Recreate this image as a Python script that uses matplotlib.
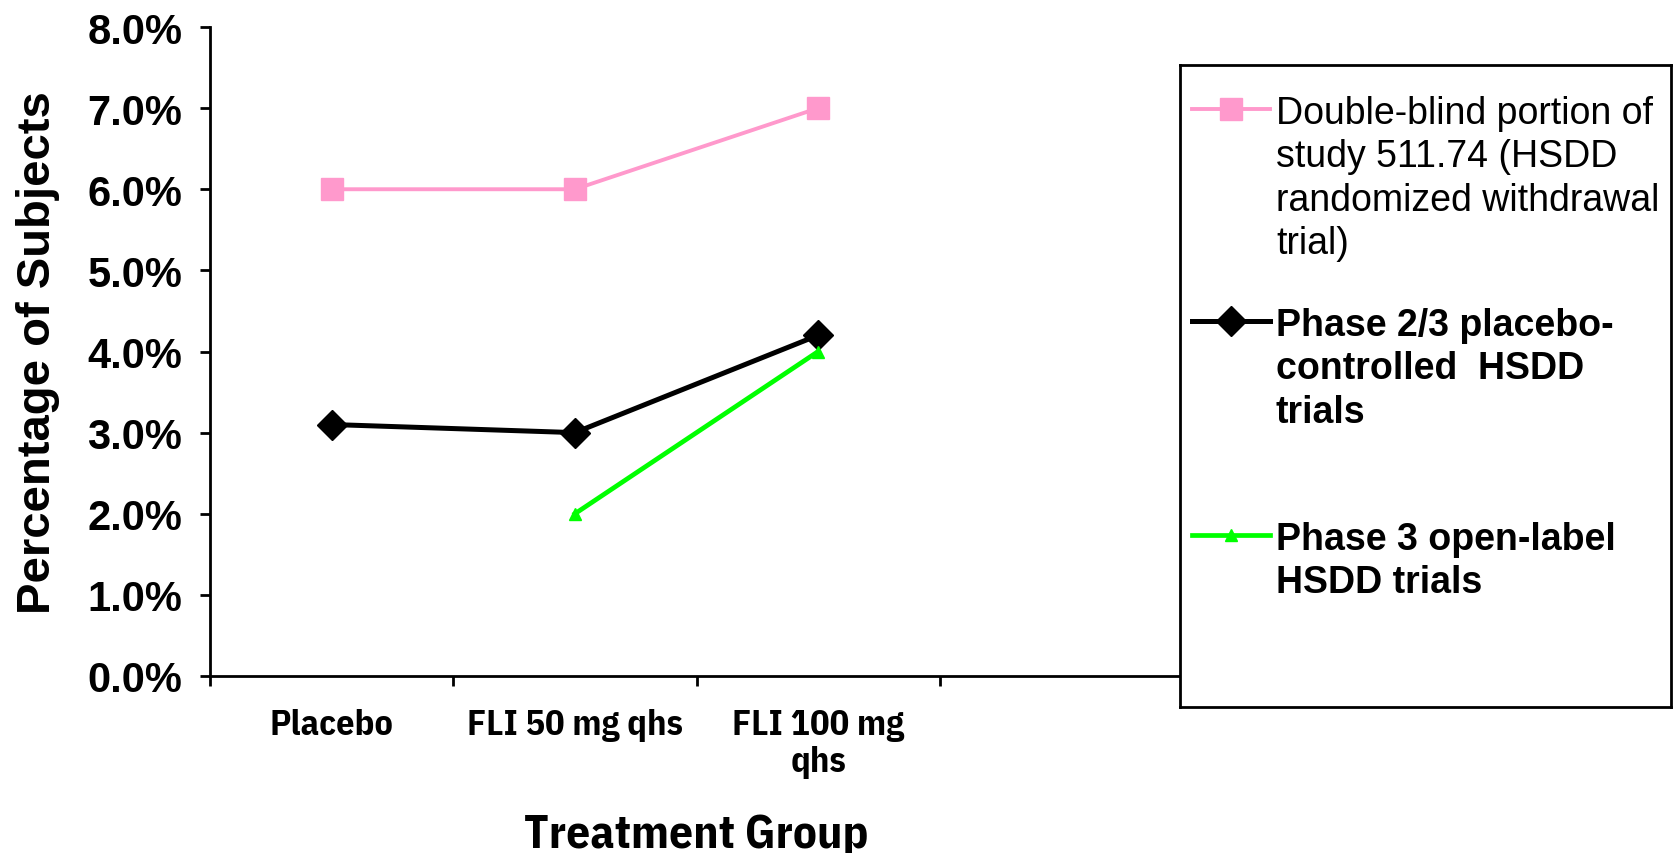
import matplotlib
matplotlib.use("Agg")
import matplotlib.pyplot as plt
from matplotlib.lines import Line2D
from matplotlib.ticker import FuncFormatter

plt.rcParams['font.family'] = ['Liberation Sans', 'DejaVu Sans']
NARROW = ['IBM Plex Sans Condensed', 'Liberation Sans']

# treatment groups (the fourth slot is left empty, hidden under the legend)
groups = ["Placebo", "FLI 50 mg qhs", "FLI 100 mg\nqhs", ""]

# percentage of subjects per series
double_blind = [6.0, 6.0, 7.0]
phase23 = [3.1, 3.0, 4.2]
phase3_open = [None, 2.0, 4.0]

labels = [
    "Double-blind portion of\nstudy 511.74 (HSDD\nrandomized withdrawal\ntrial)",
    "Phase 2/3 placebo-\ncontrolled  HSDD\ntrials",
    "Phase 3 open-label\nHSDD trials",
]
weights = ["normal", "bold", "bold"]

styles = [
    dict(color="#FF99CC", lw=2.8, marker="s", ms=16.5),
    dict(color="black", lw=3.6, marker="D", ms=15.5),
    dict(color="#00FF00", lw=3.4, marker="^", ms=9),
]

fig = plt.figure(figsize=(16.8, 8.54), dpi=100)
ax = fig.add_axes([210 / 1680, 1 - 677 / 854, 973 / 1680, 649 / 854])

x = list(range(3))
ax.plot(x, double_blind, **styles[0])
ax.plot(x, phase23, **styles[1])
ax.plot(x[1:], phase3_open[1:], **styles[2])

ax.set_xlim(-0.5, len(groups) - 0.5)
ax.set_ylim(0, 8)
ax.set_yticks(range(0, 9))
ax.yaxis.set_major_formatter(FuncFormatter(lambda v, p: f"{v:.1f}%"))

# category boundaries as ticks, names centred between them
ax.set_xticks([i - 0.5 for i in range(len(groups) + 1)])
ax.set_xticklabels([])
ax.set_xticks(range(len(groups)), minor=True)
ax.set_xticklabels(groups, minor=True, family=NARROW,
                   fontweight="bold", fontsize=26, linespacing=1.15)
ax.tick_params(axis="x", which="minor", length=0, pad=23)
ax.tick_params(axis="x", which="major", length=7, width=2, direction="out")
ax.tick_params(axis="y", length=7, width=2, pad=13, labelsize=30)
for t in ax.get_yticklabels():
    t.set_fontweight("bold")

for s in ["top", "right"]:
    ax.spines[s].set_visible(False)
for s in ["left", "bottom"]:
    ax.spines[s].set_linewidth(2)

ax.set_xlabel("Treatment Group", family=NARROW, fontweight="bold", fontsize=34, labelpad=25)
ax.set_ylabel("Percentage of Subjects", fontweight="bold", fontsize=34)
ax.yaxis.set_label_coords(-0.154, 0.5)

# legend box drawn on its own axes, in pixel units from its top-left corner
lg = fig.add_axes([1180 / 1680, 1 - 708 / 854, 491 / 1680, 642 / 854])
lg.set_xlim(0, 491)
lg.set_ylim(642, 0)
lg.set_xticks([])
lg.set_yticks([])
for s in lg.spines.values():
    s.set_linewidth(2)
rows = [44, 256, 470]
for row, st, lab, w in zip(rows, styles, labels, weights):
    lg.add_line(Line2D([12, 51, 90], [row, row, row], markevery=[1], **st))
    lg.text(96, row - 14, lab, fontsize=27, fontweight=w, va="top", ha="left",
            linespacing=1.26)

fig.savefig("out.png", dpi=100)
